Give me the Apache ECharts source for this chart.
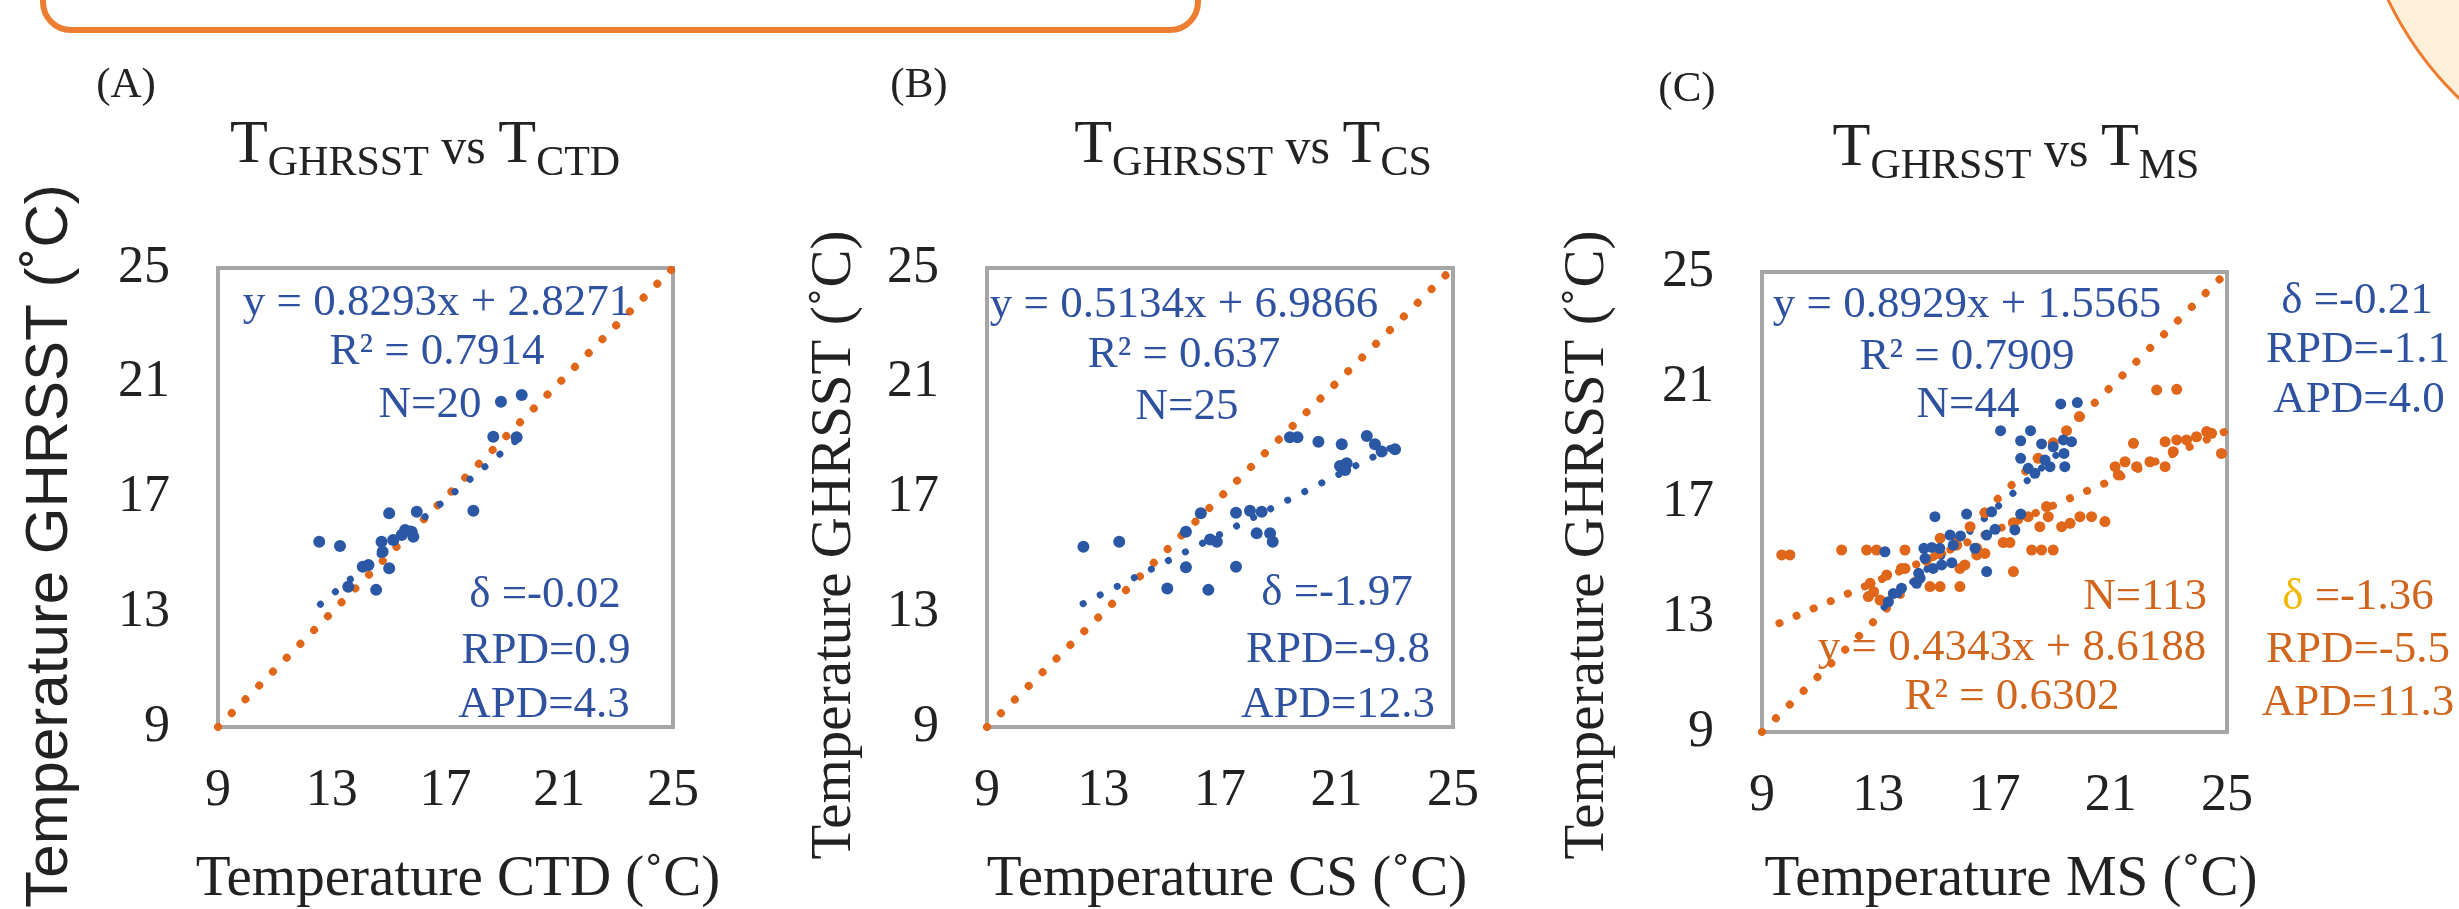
<!DOCTYPE html>
<html><head><meta charset="utf-8">
<script src="https://cdn.jsdelivr.net/npm/echarts@6/dist/echarts.min.js"></script>
<style>html,body{margin:0;padding:0;background:#fff;overflow:hidden}#c{width:2459px;height:909px}</style>
</head><body><div id="c"></div>
<script>
// ---- data ----
const tickValues = [9, 13, 17, 21, 25];
const axisRange = [9, 25];
const axisStep = 4;
const oneToOne = [[9, 9], [25, 25]];

// (A) GHRSST vs CTD
const ctdPoints = [[12.56,15.46],[13.29,15.31],[13.58,13.89],[14.09,14.59],[14.29,14.65],[14.56,13.78],[14.75,15.46],[14.79,15.11],[15.02,16.45],[15.02,14.53],[15.16,15.52],[15.46,15.69],[15.58,15.87],[15.81,15.81],[15.87,15.63],[15.99,16.5],[17.98,16.54],[18.68,19.12],[19.5,19.1],[18.95,20.34],[19.68,20.57]];
const ctdTrend = [0.8293, 2.8271];
const ctdTrendRange = [12.6, 19.7];

// (B) GHRSST vs CS
const csPoints = [[12.31,15.28],[13.54,15.46],[15.19,13.83],[15.83,14.57],[15.83,15.81],[16.34,16.45],[16.6,13.78],[16.66,15.54],[16.89,15.46],[17.55,14.59],[17.55,16.47],[18.03,16.54],[18.26,15.75],[18.43,16.5],[18.72,15.75],[18.81,15.46],[19.4,19.1],[19.66,19.1],[20.38,18.94],[21.12,18.1],[21.18,18.86],[21.35,18.19],[21.3,17.96],[22.04,19.14],[22.32,18.86],[22.55,18.6],[23.01,18.68]];
const csTrend = [0.5134, 6.9866];
const csTrendRange = [12.3, 23.0];

// (C) GHRSST vs MS
const msBluePoints = [[19.28,20.41],[19.85,20.46],[17.21,19.48],[18.24,19.48],[17.9,19.13],[18.62,19.02],[19.02,18.92],[19.37,19.16],[19.65,19.1],[17.9,18.52],[18.74,18.46],[19.39,18.69],[19.42,18.23],[18.16,18.17],[18.39,18.0],[18.91,18.23],[16.9,16.66],[17.9,16.58],[16.04,16.58],[14.95,16.49],[17.02,16.05],[17.7,16.03],[16.73,15.85],[15.83,15.82],[15.47,15.85],[15.58,15.5],[14.57,15.39],[14.84,15.42],[15.12,15.39],[13.23,15.27],[16.33,15.39],[16.73,14.58],[14.89,14.69],[15.18,14.81],[15.53,14.89],[14.39,14.52],[14.32,14.17],[13.8,14.0],[13.52,13.82],[13.35,13.53],[14.61,15.04],[14.44,14.35]];
const msBlueTrend = [0.8929, 1.5565];
const msBlueTrendRange = [13.2, 19.9];
const msOrangePoints = [[9.68,15.16],[9.96,15.16],[11.74,15.33],[12.6,15.33],[12.94,15.33],[13.92,15.33],[17.3,15.59],[17.53,15.59],[18.28,15.33],[18.62,15.33],[19.02,15.33],[17.65,14.58],[15.81,14.69],[15.98,14.81],[16.39,15.16],[16.67,15.21],[16.39,15.39],[15.07,15.21],[15.7,15.5],[15.13,15.74],[14.66,14.98],[13.92,14.69],[13.29,14.46],[12.72,14.17],[12.84,13.88],[12.66,13.71],[13.06,13.59],[14.78,14.06],[15.13,14.06],[15.81,14.06],[16.16,16.14],[16.67,16.63],[17.65,16.28],[18.16,16.49],[18.56,16.14],[18.85,16.49],[19.31,16.14],[19.6,16.26],[19.94,16.49],[20.34,16.49],[20.8,16.32],[18.79,16.84],[17.93,16.55],[19.02,19.06],[19.92,19.97],[19.48,19.48],[18.5,18.52],[21.78,19.04],[21.15,18.23],[21.49,18.4],[21.89,18.23],[22.35,18.4],[22.87,18.23],[21.26,17.94],[22.58,20.9],[23.27,20.92],[22.87,19.1],[23.27,19.16],[23.61,19.16],[23.95,19.27],[24.3,19.45],[24.47,19.39],[24.81,18.69],[23.15,18.75],[13.8,14.69]];
const msOrangeTrend = [0.4343, 8.6188];
const msOrangeTrendRange = [9.6, 24.9];

const titleSubs = ['CTD', 'CS', 'MS'];
const xTitles = ['Temperature CTD (˚C)', 'Temperature CS (˚C)', 'Temperature MS (˚C)'];
const yTitle = 'Temperature GHRSST (˚C)';
const panelTags = ['(A)', '(B)', '(C)'];
const statsA = ['y = 0.8293x + 2.8271', 'R² = 0.7914', 'N=20', 'δ =-0.02', 'RPD=0.9', 'APD=4.3'];
const statsB = ['y = 0.5134x + 6.9866', 'R² = 0.637', 'N=25', 'δ =-1.97', 'RPD=-9.8', 'APD=12.3'];
const statsCBlue = ['y = 0.8929x + 1.5565', 'R² = 0.7909', 'N=44', 'δ =-0.21', 'RPD=-1.1', 'APD=4.0'];
const statsCOrange = ['N=113', 'y = 0.4343x + 8.6188', 'R² = 0.6302', '=-1.36', 'RPD=-5.5', 'APD=11.3'];

// ---- style ----
const BLUE = '#2B58A5', BLUE_TXT = '#2F52A0', ORANGE = '#E0661A', ORANGE_TXT = '#D0651E', YELLOW = '#F2B700';
const SERIF = '"Liberation Serif", "Times New Roman", serif';
const SANS = '"Liberation Sans", Arial, sans-serif';
const INK = '#222222';

const grids = [
  {left: 218, top: 268, width: 455, height: 459},
  {left: 987, top: 268, width: 466, height: 459},
  {left: 1762, top: 272, width: 465, height: 460}
];

function trendLine(coef, range) {
  return range.map(x => [x, coef[0] * x + coef[1]]);
}
function axis(i, isX) {
  return {
    type: 'value', gridIndex: i, min: axisRange[0], max: axisRange[1], interval: axisStep,
    axisLine: {show: false}, axisTick: {show: false}, splitLine: {show: false},
    axisLabel: {fontFamily: SERIF, fontSize: 52, color: INK, margin: isX ? 38 : 48,
      formatter: v => tickValues.includes(v) ? String(v) : ''}
  };
}
function dotted(i, data, color, width, gap, z) {
  return {type: 'line', xAxisIndex: i, yAxisIndex: i, data, showSymbol: false, symbol: 'none', clip: false,
    silent: true, z, lineStyle: {color, width, type: [0.1, gap], cap: 'round'}};
}
function scatter(i, data, color, size, z) {
  return {type: 'scatter', xAxisIndex: i, yAxisIndex: i, data, symbolSize: size, silent: true, z,
    itemStyle: {color, opacity: 1}};
}

const series = [
  dotted(0, oneToOne, ORANGE, 8, 19.4, 2),
  dotted(0, trendLine(ctdTrend, ctdTrendRange), BLUE, 7, 19.4, 3),
  scatter(0, ctdPoints, BLUE, 12, 5),
  dotted(1, oneToOne, ORANGE, 8, 19.4, 2),
  dotted(1, trendLine(csTrend, csTrendRange), BLUE, 7, 19, 3),
  scatter(1, csPoints, BLUE, 12, 5),
  dotted(2, oneToOne, ORANGE, 8, 19.4, 2),
  dotted(2, trendLine(msOrangeTrend, msOrangeTrendRange), ORANGE, 8, 18.5, 2),
  scatter(2, msOrangePoints, ORANGE, 11, 4),
  dotted(2, trendLine(msBlueTrend, msBlueTrendRange), BLUE, 7, 19, 3),
  scatter(2, msBluePoints, BLUE, 11, 5)
];

function txt(text, x, y, color, size, opts, family) {
  return Object.assign({type: 'text', x, y, z: 10, silent: true,
    style: {text, fill: color, font: size + 'px ' + (family || SERIF), textAlign: 'center', textVerticalAlign: 'middle'}}, opts || {});
}
// measured title pieces laid out left to right
const measureCtx = document.createElement('canvas').getContext('2d');
function textWidth(s, size) { measureCtx.font = size + 'px ' + SERIF; return measureCtx.measureText(s).width; }
function titlePieces(sub, cx, baseY) {
  const parts = [['T', 62, 0], ['GHRSST', 42, 1], [' vs ', 50, 0], ['T', 62, 0], [sub, 42, 1]];
  const total = parts.reduce((a, p) => a + textWidth(p[0], p[1]), 0);
  let x = cx - total / 2;
  return parts.map(p => {
    const w = textWidth(p[0], p[1]);
    const base = p[2] ? baseY + 12 : baseY;
    const el = {type: 'text', x, y: base - 0.31 * p[1], z: 10, silent: true,
      style: {text: p[0], fill: INK, font: p[1] + 'px ' + SERIF, textAlign: 'left', textVerticalAlign: 'middle'}};
    x += w;
    return el;
  });
}
const tagStats = (arr, xs, ys, color) => arr.map((s, k) => txt(s, xs[k], ys[k], color, 45));

const graphic = [
  {type: 'rect', shape: {x: 43, y: -60, width: 1155, height: 90, r: 28}, z: 0,
    style: {fill: '#ffffff', stroke: '#ED7D31', lineWidth: 6}},
  {type: 'circle', shape: {cx: 2700, cy: -150, r: 346}, z: 0,
    style: {fill: '#FEF0D8', stroke: '#ED7D31', lineWidth: 3}},
  txt(panelTags[0], 126, 86, INK, 43),
  txt(panelTags[1], 919, 86, INK, 43),
  txt(panelTags[2], 1687, 90, INK, 43),
  ...titlePieces(titleSubs[0], 425, 165),
  ...titlePieces(titleSubs[1], 1253, 165),
  ...titlePieces(titleSubs[2], 2016, 168),
  txt(xTitles[0], 458, 880, INK, 57),
  txt(xTitles[1], 1227, 880, INK, 57),
  txt(xTitles[2], 2011, 880, INK, 57),
  txt(yTitle, 50, 546, INK, 60, {rotation: Math.PI / 2}, SANS),
  txt(yTitle, 835, 545, INK, 57, {rotation: Math.PI / 2}),
  txt(yTitle, 1588, 545, INK, 57, {rotation: Math.PI / 2}),
  ...tagStats(statsA, [437, 437, 430, 545, 546, 544], [303, 352, 405, 595, 651, 705], BLUE_TXT),
  ...tagStats(statsB, [1184, 1184, 1187, 1337, 1338, 1338], [305, 355, 407, 593, 650, 705], BLUE_TXT),
  ...tagStats(statsCBlue, [1967, 1967, 1968, 2357, 2358, 2359], [305, 357, 405, 301, 350, 400], BLUE_TXT),
  {type: 'text', x: 2207, y: 597, z: 10, silent: true,
    style: {text: statsCOrange[0], fill: ORANGE_TXT, font: '45px ' + SERIF, textAlign: 'right', textVerticalAlign: 'middle'}},
  txt(statsCOrange[1], 2012, 648, ORANGE_TXT, 45), txt(statsCOrange[2], 2012, 697, ORANGE_TXT, 45),
  // orange δ line: yellow δ + orange rest
  {type: 'text', x: 2358 - (textWidth('δ ' + statsCOrange[3], 45)) / 2, y: 597, z: 10, silent: true,
    style: {text: 'δ', fill: YELLOW, font: '45px ' + SERIF, textAlign: 'left', textVerticalAlign: 'middle'}},
  {type: 'text', x: 2358 - (textWidth('δ ' + statsCOrange[3], 45)) / 2 + textWidth('δ ', 45), y: 597, z: 10, silent: true,
    style: {text: statsCOrange[3], fill: ORANGE_TXT, font: '45px ' + SERIF, textAlign: 'left', textVerticalAlign: 'middle'}},
  txt(statsCOrange[4], 2358, 650, ORANGE_TXT, 45), txt(statsCOrange[5], 2358, 703, ORANGE_TXT, 45)
];

const chart = echarts.init(document.getElementById('c'), null, {renderer: 'canvas'});
chart.setOption({
  animation: false,
  backgroundColor: '#ffffff',
  grid: grids.map(g => Object.assign({show: true, borderColor: '#A6A6A6', borderWidth: 4, backgroundColor: 'transparent', containLabel: false}, g)),
  xAxis: [0, 1, 2].map(i => axis(i, true)),
  yAxis: [0, 1, 2].map(i => axis(i, false)),
  series,
  graphic
});
</script></body></html>
